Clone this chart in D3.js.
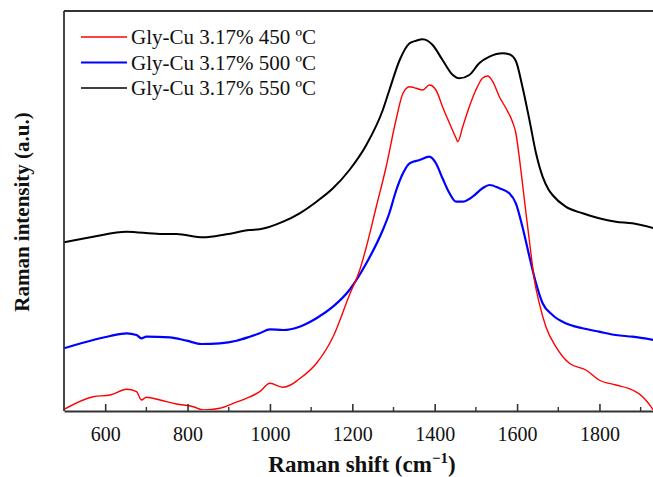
<!DOCTYPE html>
<meta charset="utf-8">
<style>
body { margin: 0; background: #fff; }
text { font-family: "Liberation Serif", "Times New Roman", serif; }
</style>
<body>
<div id="chart"></div>
</body>
<script src="https://d3js.org/d3.v7.min.js"></script>
<script>

var width = 653, height = 477;
var margin = {top: 11, right: 0, bottom: 66, left: 64};

// Raman shift (cm-1), intensity (a.u.)
var red450 = [
  [500, 1.7], [571, 14.3], [612, 16], [652, 21.7], [676, 19.3], [688, 11], [700, 13.7],
  [733, 11], [773, 7], [814, 4.3], [838, 1], [878, 2.7], [911, 7.7], [943, 12.7],
  [975, 19.3], [1000, 27.7], [1032, 23.7], [1050, 26], [1068, 31], [1113, 47.7],
  [1153, 74], [1193, 116], [1218, 141], [1234, 164], [1258, 204], [1282, 244],
  [1306, 291], [1323, 317.7], [1339, 324.3], [1355, 322.7], [1371, 321], [1387, 326],
  [1403, 321], [1419, 304.3], [1436, 287.7], [1452, 272.7], [1456, 269.3], [1468, 284.3],
  [1484, 304.3], [1500, 321], [1516, 332.7], [1529, 335], [1541, 329.3], [1557, 314.3],
  [1573, 302.7], [1589, 289], [1597, 278], [1605, 255], [1613, 228], [1621, 200],
  [1630, 170], [1642, 131], [1654, 107.7], [1670, 84.3], [1694, 64.3], [1727, 47.7],
  [1767, 41], [1799, 31], [1840, 26], [1880, 21], [1905, 14.3], [1925, 4.3], [1932, 0]
];

var blue500 = [
  [500, 62.7], [571, 71], [612, 75], [652, 77.7], [676, 76], [688, 72.7], [700, 74.3],
  [757, 73.7], [798, 70.3], [834, 67], [878, 67.7], [919, 70.3], [951, 74.3], [975, 77.7],
  [1000, 81.7], [1032, 81], [1072, 84.3], [1113, 92.7], [1153, 104.3], [1193, 121],
  [1234, 147.7], [1274, 181], [1290, 198], [1306, 220], [1323, 237.7], [1339, 247.7],
  [1363, 251], [1387, 254.3], [1403, 247.7], [1419, 232.7], [1436, 217.7], [1452, 209.3],
  [1468, 209.3], [1492, 214.3], [1516, 222.7], [1533, 226], [1557, 222.7], [1581, 217.7],
  [1597, 207.7], [1613, 184.3], [1630, 154.3], [1646, 127.7], [1662, 107.7], [1686, 96],
  [1718, 87.7], [1759, 82.7], [1799, 79.3], [1840, 76], [1880, 74.3], [1932, 71]
];

var black550 = [
  [500, 168.7], [571, 174.3], [652, 179.3], [733, 177], [773, 177], [838, 173.7],
  [894, 176.7], [951, 181], [975, 181.7], [1032, 189.3], [1072, 197.7], [1113, 209.3],
  [1153, 222.7], [1193, 241], [1234, 266], [1274, 301], [1290, 321], [1315, 351],
  [1339, 367.7], [1355, 370.3], [1371, 371.7], [1395, 366], [1419, 351], [1444, 336],
  [1460, 332.7], [1484, 336], [1508, 347.7], [1533, 354.3], [1565, 357.7], [1581, 356.7],
  [1597, 350], [1613, 324.3], [1630, 291], [1646, 257.7], [1662, 234.3], [1677, 221],
  [1686, 216], [1718, 204.3], [1759, 197.7], [1799, 192.7], [1840, 189.3], [1880, 187.7],
  [1932, 182.7]
];

var seriesNames = ["Gly-Cu 3.17% 450 ºC", "Gly-Cu 3.17% 500 ºC", "Gly-Cu 3.17% 550 ºC"];
var seriesColors = ["#ff0000", "#0000ff", "#000000"];
var seriesWidths = [1.4, 2.2, 2];
var seriesData = [red450, blue500, black550];

var xTicks = [600, 800, 1000, 1200, 1400, 1600, 1800];
var xMinor = [700, 900, 1100, 1300, 1500, 1700, 1900];

var x = d3.scaleLinear([500, 1930], [margin.left, width - margin.right]);
var y = d3.scaleLinear([0, 400], [height - margin.bottom, margin.top]);

var svg = d3.select("#chart").append("svg")
    .attr("width", width)
    .attr("height", height);

svg.append("clipPath").attr("id", "clip")
  .append("rect")
    .attr("x", margin.left).attr("y", margin.top - 2)
    .attr("width", width - margin.left).attr("height", height - margin.bottom - margin.top + 1);

var line = d3.line()
    .x(d => x(d[0]))
    .y(d => y(d[1]))
    .curve(d3.curveMonotoneX);

// draw black first so red/blue sit on top like the original
[2, 1, 0].forEach(function(i) {
  svg.append("path")
    .datum(seriesData[i])
    .attr("clip-path", "url(#clip)")
    .attr("fill", "none")
    .attr("stroke", seriesColors[i])
    .attr("stroke-width", seriesWidths[i])
    .attr("stroke-linejoin", "round")
    .attr("d", line);
});

// bottom axis, ticks pointing inward
var xAxis = svg.append("g")
    .attr("transform", "translate(0," + (height - margin.bottom) + ")")
    .call(d3.axisBottom(x).tickValues(xTicks).tickFormat(d3.format("d"))
      .tickSize(-7).tickSizeOuter(0).tickPadding(16));
xAxis.select(".domain").attr("stroke", "#333").attr("stroke-width", 1.8);
xAxis.selectAll(".tick line").attr("stroke", "#333").attr("stroke-width", 1.6);
xAxis.selectAll(".tick text")
    .style("font-family", "Liberation Serif")
    .style("font-size", "20px")
    .attr("fill", "#111");

svg.append("g")
    .attr("transform", "translate(0," + (height - margin.bottom) + ")")
  .selectAll("line")
  .data(xMinor.filter(d => d < 1930))
  .join("line")
    .attr("x1", d => x(d)).attr("x2", d => x(d))
    .attr("y1", 0).attr("y2", -4)
    .attr("stroke", "#333").attr("stroke-width", 1.4);

// left and top frame
svg.append("line")
    .attr("x1", margin.left).attr("x2", margin.left)
    .attr("y1", margin.top).attr("y2", height - margin.bottom)
    .attr("stroke", "#333").attr("stroke-width", 1.8);
svg.append("line")
    .attr("x1", margin.left).attr("x2", width)
    .attr("y1", margin.top).attr("y2", margin.top)
    .attr("stroke", "#333").attr("stroke-width", 1.8);

// axis titles
var xTitle = svg.append("text")
    .attr("x", 362)
    .attr("y", 472)
    .attr("text-anchor", "middle")
    .style("font-size", "23px")
    .style("font-weight", "bold")
    .attr("fill", "#111");
xTitle.append("tspan").text("Raman shift (cm");
xTitle.append("tspan").text("\u22121").attr("dy", -9).style("font-size", "15px");
xTitle.append("tspan").text(")").attr("dy", 9);

svg.append("text")
    .attr("transform", "translate(29,212) rotate(-90)")
    .attr("text-anchor", "middle")
    .style("font-size", "21px")
    .style("font-weight", "bold")
    .attr("fill", "#111")
    .text("Raman intensity (a.u.)");

// legend
var legend = svg.append("g");
seriesNames.forEach(function(name, i) {
  var ly = 37 + i * 25.5;
  legend.append("line")
    .attr("x1", 81).attr("x2", 127)
    .attr("y1", ly).attr("y2", ly)
    .attr("stroke", seriesColors[i])
    .attr("stroke-width", i == 1 ? 2 : 1.5);
  legend.append("text")
    .attr("x", 131)
    .attr("y", ly + 7)
    .style("font-size", "21px")
    .attr("fill", "#111")
    .text(name);
});

</script>
